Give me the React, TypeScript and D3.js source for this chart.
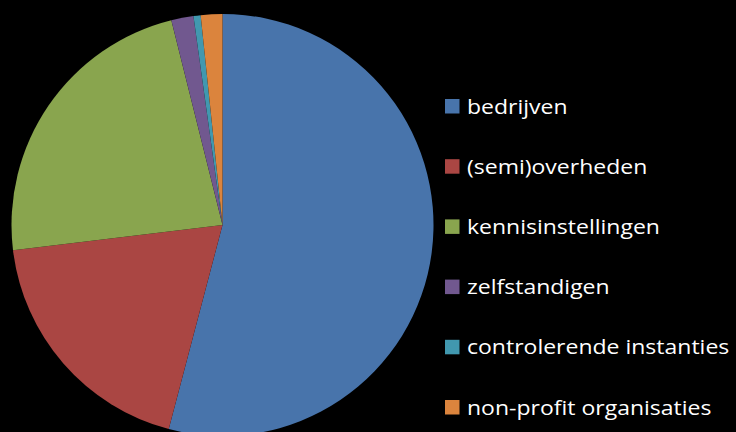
import React, { useEffect, useRef } from "react";
import * as d3 from "d3";

const categories = [
  "bedrijven",
  "(semi)overheden",
  "kennisinstellingen",
  "zelfstandigen",
  "controlerende instanties",
  "non-profit organisaties",
];
const values = [54.1, 19.0, 23.0, 1.7, 0.55, 1.65];
const colors = ["#4874AB", "#AA4643", "#89A54E", "#71588F", "#4198AF", "#DB843D"];

const W = 736;
const H = 432;

export default function App() {
  const ref = useRef<SVGSVGElement | null>(null);
  useEffect(() => {
    const svg = d3.select(ref.current);
    svg.selectAll("*").remove();
    svg.append("rect").attr("width", W).attr("height", H).attr("fill", "#000");

    const cx = 222.5, cy = 225, r = 211;
    const pie = d3.pie<number>().sort(null).value((d) => d);
    const arc = d3.arc<d3.PieArcDatum<number>>().innerRadius(0).outerRadius(r);
    const g = svg.append("g").attr("transform", `translate(${cx},${cy})`);
    g.selectAll("path")
      .data(pie(values))
      .join("path")
      .attr("d", arc)
      .attr("fill", (_, i) => colors[i]);

    const y = d3.scalePoint<string>().domain(categories).range([106.5, 407.5]);
    const leg = svg.append("g");
    const items = leg.selectAll("g").data(categories).join("g")
      .attr("transform", (d) => `translate(445,${y(d)})`);
    items.append("rect").attr("x", 0).attr("y", -7.5).attr("width", 14.5).attr("height", 14.5)
      .attr("fill", (_, i) => colors[i]);
    items.append("text")
      .attr("transform", "translate(22,7) scale(1.15,1)")
      .attr("fill", "#fff")
      .attr("font-family", "'Open Sans', sans-serif")
      .attr("font-size", 20)
      .text((d) => d);
  }, []);
  return (
    <div style={{ position: "fixed", left: 0, top: 0 }}>
      <svg ref={ref} width={W} height={H} style={{ display: "block" }} />
    </div>
  );
}
